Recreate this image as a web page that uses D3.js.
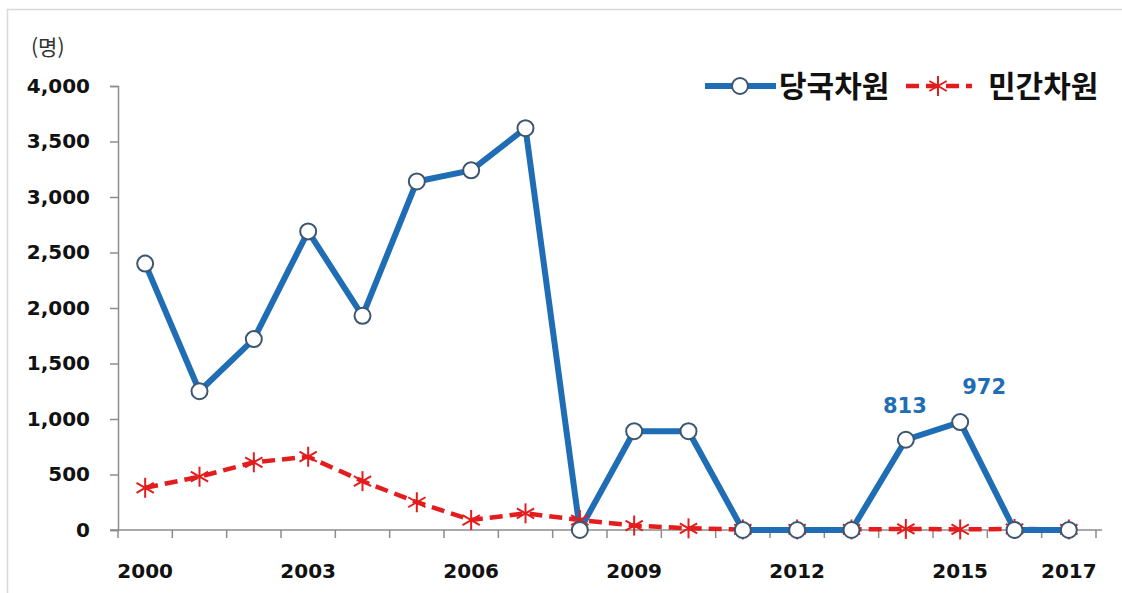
<!DOCTYPE html>
<html lang="ko">
<head>
    <meta charset="UTF-8">
    <title>당국차원 / 민간차원</title>
    <style>
        body { margin: 0; background: #fff; }
        svg text { font-family: "Noto Sans CJK KR", "Noto Sans", sans-serif; }
    </style>
</head>
<body>
    <svg id="chart" width="1122" height="593"></svg>
    <script src="https://d3js.org/d3.v7.min.js"></script>
    <script>
        var years = ["2000","2001","2002","2003","2004","2005","2006","2007","2008",
                     "2009","2010","2011","2012","2013","2014","2015","2016","2017"];
        var official = [2400, 1250, 1720, 2690, 1930, 3140, 3240, 3620, 0,
                        890, 890, 0, 0, 0, 813, 972, 0, 0];
        var civilian = [380, 480, 610, 660, 440, 250, 90, 150, 90,
                        40, 15, 5, 5, 5, 10, 5, 10, 5];
        var yTicks = [0, 500, 1000, 1500, 2000, 2500, 3000, 3500, 4000];
        var xLabels = ["2000","2003","2006","2009","2012","2015","2017"];
        var seriesNames = ["당국차원", "민간차원"];
        var labelled = ["2014", "2015"];

        var blue = "#1f6db4", red = "#e31d1d";
        var numFont = "'DejaVu Sans', sans-serif";
        var svg = d3.select("#chart");

        // light frame
        svg.append("path")
           .attr("d", "M7.5,593 V9.5 H1122")
           .attr("fill", "none")
           .attr("stroke", "#d9d9d9")
           .attr("stroke-width", 1.5);

        var x = d3.scaleBand().domain(years).range([118, 1096]).padding(0);
        var y = d3.scaleLinear().domain([0, 4000]).range([530, 86]);
        var cx = function(d, i) { return x(years[i]) + x.bandwidth() / 2; };

        // y axis
        var yAxis = svg.append("g")
            .attr("transform", "translate(118,0)")
            .call(d3.axisLeft(y).tickValues(yTicks).tickSize(8).tickPadding(20)
                  .tickFormat(d3.format(",")));
        yAxis.select(".domain").attr("stroke", "#8c8c8c").attr("stroke-width", 1.5);
        yAxis.selectAll(".tick line").attr("stroke", "#8c8c8c").attr("stroke-width", 1.5);
        yAxis.selectAll("text")
             .attr("font-size", 20).attr("font-weight", "bold").attr("fill", "#111")
             .style("font-family", numFont);

        // x axis: ticks at band boundaries
        var xAxis = svg.append("g").attr("transform", "translate(0,530)");
        xAxis.append("line")
             .attr("x1", 110).attr("x2", 1102)
             .attr("stroke", "#8c8c8c").attr("stroke-width", 1.5);
        xAxis.selectAll(".xt")
             .data(years.concat(["end"]))
             .enter().append("line")
             .attr("x1", function(d, i) { return i < years.length ? x(d) : x.range()[1]; })
             .attr("x2", function(d, i) { return i < years.length ? x(d) : x.range()[1]; })
             .attr("y1", 0).attr("y2", 8)
             .attr("stroke", "#8c8c8c").attr("stroke-width", 1.5);
        xAxis.selectAll(".xl")
             .data(xLabels)
             .enter().append("text")
             .attr("x", function(d) { return x(d) + x.bandwidth() / 2; })
             .attr("y", 48)
             .attr("text-anchor", "middle")
             .attr("font-size", 20).attr("font-weight", "bold").attr("fill", "#111")
             .style("font-family", numFont)
             .text(function(d) { return d; });

        // unit
        svg.append("text")
           .attr("x", 31).attr("y", 55)
           .attr("font-size", 21).attr("fill", "#333")
           .text("(명)");

        // civilian dashed line
        var line = d3.line().x(cx).y(function(d) { return y(d); });
        svg.append("path")
           .datum(civilian)
           .attr("d", line)
           .attr("fill", "none")
           .attr("stroke", red)
           .attr("stroke-width", 4.5)
           .attr("stroke-dasharray", "13,7");

        function star(g, px, py) {
            [0, 60, 120].forEach(function(a) {
                var r = 10, rad = a * Math.PI / 180;
                g.append("line")
                 .attr("x1", px - r * Math.sin(rad)).attr("y1", py - r * Math.cos(rad))
                 .attr("x2", px + r * Math.sin(rad)).attr("y2", py + r * Math.cos(rad))
                 .attr("stroke", red).attr("stroke-width", 2);
            });
        }

        // official solid line
        svg.append("path")
           .datum(official)
           .attr("d", line)
           .attr("fill", "none")
           .attr("stroke", blue)
           .attr("stroke-width", 6)
           .attr("stroke-linejoin", "round");

        var stars = svg.append("g");
        civilian.forEach(function(v, i) { star(stars, cx(v, i), y(v)); });

        svg.selectAll(".dot")
           .data(official)
           .enter().append("circle")
           .attr("cx", cx)
           .attr("cy", function(d) { return y(d); })
           .attr("r", 8)
           .attr("fill", "#fff")
           .attr("stroke", "#3c5670")
           .attr("stroke-width", 2);

        // value labels
        labelled.forEach(function(yr) {
            var i = years.indexOf(yr);
            svg.append("text")
               .attr("x", cx(0, i) + (i === 14 ? -1 : 24))
               .attr("y", y(official[i]) - (i === 14 ? 27 : 28))
               .attr("text-anchor", "middle")
               .attr("font-size", 21).attr("font-weight", "bold").attr("fill", blue)
               .style("font-family", numFont)
               .text(d3.format(",")(official[i]));
        });

        // legend
        var lg = svg.append("g");
        lg.append("line").attr("x1", 705).attr("x2", 776).attr("y1", 86).attr("y2", 86)
          .attr("stroke", blue).attr("stroke-width", 6);
        lg.append("circle").attr("cx", 740).attr("cy", 86).attr("r", 8)
          .attr("fill", "#fff").attr("stroke", "#3c5670").attr("stroke-width", 2);
        lg.append("text").attr("x", 779).attr("y", 97)
          .attr("font-size", 30).attr("font-weight", "bold").attr("fill", "#111")
          .text(seriesNames[0]);
        lg.append("line").attr("x1", 906).attr("x2", 972).attr("y1", 86).attr("y2", 86)
          .attr("stroke", red).attr("stroke-width", 4.5).attr("stroke-dasharray", "13,7");
        star(lg, 938, 86);
        lg.append("text").attr("x", 988).attr("y", 97)
          .attr("font-size", 30).attr("font-weight", "bold").attr("fill", "#111")
          .text(seriesNames[1]);
    </script>
</body>
</html>
